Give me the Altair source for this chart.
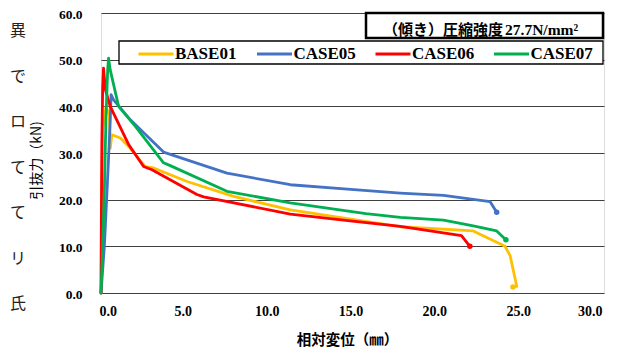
import altair as alt
import pandas as pd

# ---- data ----
series_names = ["BASE01", "CASE05", "CASE06", "CASE07"]
series_colors = ["#FFC000", "#4472C4", "#FF0000", "#00B050"]

base01_x = [0.0, 0.05, 0.1, 0.3, 0.5, 0.55, 0.65, 1.15, 1.65, 2.64, 3.14, 5.13, 7.91, 11.29, 15.0, 17.85, 22.2, 24.1, 24.4, 24.8, 24.57]
base01_y = [0.0, 20.0, 35.0, 40.0, 38.0, 31.0, 33.9, 33.2, 31.4, 27.1, 26.8, 23.9, 20.7, 17.8, 15.8, 14.2, 13.3, 10.0, 8.0, 1.4, 1.3]

case05_x = [0.0, 0.2, 0.4, 0.55, 0.6, 0.75, 1.75, 3.73, 7.51, 11.29, 14.5, 17.85, 20.43, 23.2, 23.6]
case05_y = [0.0, 10.0, 25.0, 36.8, 42.5, 41.4, 37.1, 30.2, 25.7, 23.2, 22.3, 21.4, 20.9, 19.6, 17.3]

case06_x = [0.0, 0.02, 0.05, 0.1, 0.15, 0.26, 0.55, 1.65, 2.54, 3.04, 5.72, 6.12, 11.29, 15.0, 17.85, 21.5, 22.0]
case06_y = [0.0, 15.0, 32.0, 44.0, 48.2, 43.6, 40.0, 31.8, 27.1, 26.4, 21.1, 20.6, 16.9, 15.4, 14.3, 12.3, 10.0]

case07_x = [0.0, 0.1, 0.2, 0.3, 0.4, 0.45, 0.55, 1.05, 2.05, 3.73, 4.13, 7.51, 11.29, 15.8, 17.85, 20.43, 22.2, 23.6, 24.15]
case07_y = [0.0, 10.0, 22.0, 38.0, 48.0, 50.3, 47.8, 40.0, 35.7, 27.9, 27.3, 21.8, 19.3, 17.0, 16.2, 15.6, 14.4, 13.3, 11.4]

x_ticks = [0, 5, 10, 15, 20, 25, 30]
y_ticks = [0, 10, 20, 30, 40, 50, 60]

x_title = "相対変位（㎜）"
y_title = "引抜力（kN)"
note_jp = "（傾き）圧縮強度"
note_en = "27.7N/mm²"
side_chars = ["異", "で", "ロ", "て", "て", "リ", "氏"]

# ---- build table ----
rows = []
for name, xs, ys in zip(series_names,
                        [base01_x, case05_x, case06_x, case07_x],
                        [base01_y, case05_y, case06_y, case07_y]):
    for i, (xv, yv) in enumerate(zip(xs, ys)):
        rows.append({"series": name, "x": xv, "y": yv, "i": i})
df = pd.DataFrame(rows)

W, H = 503, 280
one = pd.DataFrame({"a": [0]})

xs = alt.X("x:Q", scale=alt.Scale(domain=[0, 30], nice=False),
           axis=alt.Axis(values=x_ticks, format=".1f", title=x_title, grid=False,
                         ticks=False, domain=False, labelPadding=11, labelOffset=-2,
                         labelFont="Liberation Serif", labelFontWeight="bold", labelFontSize=14,
                         labelColor="#000", titleFont="Noto Sans CJK JP", titleFontWeight="bold",
                         titleFontSize=14.5, titleColor="#000", titleX=246, titleY=47,
                         titleBaseline="middle", titleAlign="center"))
ys = alt.Y("y:Q", scale=alt.Scale(domain=[0, 60], nice=False),
           axis=alt.Axis(values=y_ticks, format=".1f", title=y_title, grid=True,
                         gridColor="#404040", gridWidth=1.2, ticks=False, domain=False,
                         labelPadding=19, labelOffset=1, labelFont="Liberation Serif",
                         labelFontWeight="bold", labelFontSize=13.5, labelColor="#000",
                         titleFont="Noto Sans CJK JP", titleFontWeight="normal",
                         titleFontSize=14, titleColor="#000",
                         titleX=-65, titleY=147, titleAngle=270, titleBaseline="middle",
                         titleAlign="center"))
color = alt.Color("series:N",
                  scale=alt.Scale(domain=series_names, range=series_colors),
                  legend=alt.Legend(title=None, orient="none", legendX=36, legendY=22,
                                    direction="horizontal", columns=4, symbolType="stroke",
                                    symbolSize=1225, symbolStrokeWidth=3, labelOffset=0,
                                    columnPadding=12.5, gridAlign="all", padding=0,
                                    labelFont="Liberation Serif", labelFontWeight="bold",
                                    labelFontSize=17, labelColor="#000"))

lines = alt.Chart(df).mark_line(strokeWidth=2.8, strokeCap="round", strokeJoin="round").encode(
    x=xs, y=ys, color=color, order="i:Q")

ends = alt.Chart(df).transform_window(
    rk="rank()", sort=[alt.SortField("i", order="descending")], groupby=["series"]
).transform_filter(alt.datum.rk == 1).mark_point(filled=True, size=30, opacity=1).encode(
    x="x:Q", y="y:Q", color=alt.Color("series:N", legend=None))

legend_box = alt.Chart(one).mark_rect(fill="white", stroke="#000", strokeWidth=1.3).encode(
    x=alt.value(18), x2=alt.value(502), y=alt.value(28), y2=alt.value(51))

note_box = alt.Chart(one).mark_rect(fill="white", stroke="#000", strokeWidth=2.5).encode(
    x=alt.value(265), x2=alt.value(502), y=alt.value(0), y2=alt.value(25))

note1 = alt.Chart(one).mark_text(align="right", baseline="middle", font="Noto Sans CJK JP",
                                 fontWeight="bold", fontSize=15, color="#000").encode(
    x=alt.value(402), y=alt.value(16.5), text=alt.value(note_jp))
note2 = alt.Chart(one).mark_text(align="left", baseline="middle", font="Liberation Serif",
                                 fontWeight="bold", fontSize=15.5, color="#000").encode(
    x=alt.value(404), y=alt.value(16.5), text=alt.value(note_en))

side_layers = []
for k, ch in enumerate(side_chars):
    side_layers.append(
        alt.Chart(one).mark_text(align="center", baseline="middle", font="Noto Sans CJK JP",
                                 fontSize=16, color="#222").encode(
            x=alt.value(-83), y=alt.value(18 + 45.5 * k), text=alt.value(ch)))

chart = alt.layer(lines, ends, legend_box, note_box, note1, note2, *side_layers).properties(
    width=W, height=H,
    autosize=alt.AutoSizeParams(type="none"),
    padding={"left": 93, "top": 5, "right": 20, "bottom": 56},
).configure_view(stroke="#000", strokeWidth=1.6).configure(background="white")

chart.save("out.html", embed_options={"renderer": "svg", "actions": False})
